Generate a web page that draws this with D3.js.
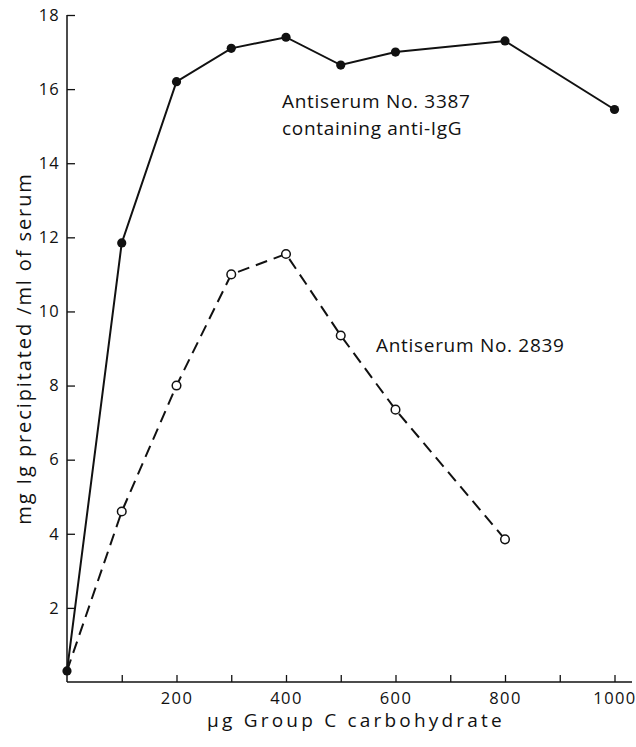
<!DOCTYPE html>
<html>
<head>
<meta charset="utf-8">
<script src="https://cdn.jsdelivr.net/npm/d3@7"></script>
<style>
  html, body { margin: 0; padding: 0; background: #fff; }
  svg { display: block; }
  text { font-family: "Open Sans", "Liberation Sans", sans-serif; font-weight: 400; fill: #111; }
</style>
</head>
<body>
<svg id="chart" width="636" height="747"></svg>
<script>
// µg of Group C carbohydrate added
const carbohydrate = [0, 100, 200, 300, 400, 500, 600, 800, 1000];
// mg Ig precipitated per ml of serum, antiserum No. 3387 (contains anti-IgG)
const serum3387 = [0.3, 11.85, 16.2, 17.1, 17.4, 16.65, 17.0, 17.3, 15.45];
// antiserum No. 2839 (no value measured at 1000)
const carbohydrate2839 = [0, 100, 200, 300, 400, 500, 600, 800];
const serum2839 = [0.3, 4.6, 8.0, 11.0, 11.55, 9.35, 7.35, 3.85];

const xTicks = [100, 200, 300, 400, 500, 600, 700, 800, 900, 1000];
const xTickLabels = [200, 400, 600, 800, 1000];
const yTicks = [2, 4, 6, 8, 10, 12, 14, 16, 18];

const svg = d3.select("#chart");
const ink = "#111";

const x = d3.scaleLinear().domain([0, 1000]).range([67, 614.5]);
const y = d3.scaleLinear().domain([0, 18]).range([682, 15]);

// x axis: ticks pointing up into the plot, line runs a little past 1000
const xAxis = d3.axisBottom(x)
  .tickValues(xTicks)
  .tickSizeInner(-7)
  .tickSizeOuter(0)
  .tickPadding(10)
  .tickFormat(d => xTickLabels.includes(d) ? d : "");
const gx = svg.append("g").attr("transform", `translate(0,${y(0)})`).call(xAxis);
gx.select(".domain").remove();
gx.append("line")
  .attr("x1", x(0)).attr("x2", 632)
  .attr("y1", 0).attr("y2", 0)
  .attr("stroke", ink).attr("stroke-width", 1.5);
gx.selectAll(".tick line").attr("stroke", ink).attr("stroke-width", 1.3);
gx.selectAll(".tick text")
  .attr("font-size", 16.5).attr("letter-spacing", 1.4)
  .attr("font-family", null).attr("fill", ink);

// y axis: ticks pointing right into the plot
const yAxis = d3.axisLeft(y)
  .tickValues(yTicks)
  .tickSizeInner(-8)
  .tickSizeOuter(0)
  .tickPadding(7)
  .tickFormat(d3.format("d"));
const gy = svg.append("g").attr("transform", `translate(${x(0)},0)`).call(yAxis);
gy.select(".domain").remove();
gy.append("line")
  .attr("x1", 0).attr("x2", 0)
  .attr("y1", y(0)).attr("y2", y(18))
  .attr("stroke", ink).attr("stroke-width", 1.5);
gy.selectAll(".tick line").attr("stroke", ink).attr("stroke-width", 1.3);
gy.selectAll(".tick text")
  .attr("font-size", 16.5).attr("letter-spacing", 1.2)
  .attr("font-family", null).attr("fill", ink);

// curves
const line = d3.line().x(d => x(d[0])).y(d => y(d[1]));
const pts3387 = carbohydrate.map((c, i) => [c, serum3387[i]]);
const pts2839 = carbohydrate2839.map((c, i) => [c, serum2839[i]]);

svg.append("path")
  .datum(pts2839)
  .attr("d", line)
  .attr("fill", "none")
  .attr("stroke", ink)
  .attr("stroke-width", 2)
  .attr("stroke-dasharray", "12,7");

svg.append("path")
  .datum(pts3387)
  .attr("d", line)
  .attr("fill", "none")
  .attr("stroke", ink)
  .attr("stroke-width", 2);

// open circles for No. 2839 (the shared origin point is drawn filled)
svg.append("g").selectAll("circle")
  .data(pts2839.slice(1))
  .join("circle")
  .attr("cx", d => x(d[0]))
  .attr("cy", d => y(d[1]))
  .attr("r", 4.3)
  .attr("fill", "#fff")
  .attr("stroke", ink)
  .attr("stroke-width", 1.5);

// filled circles for No. 3387
svg.append("g").selectAll("circle")
  .data(pts3387)
  .join("circle")
  .attr("cx", d => x(d[0]))
  .attr("cy", d => y(d[1]))
  .attr("r", 4.6)
  .attr("fill", ink);

// series labels
const label = svg.append("g").attr("font-size", 19).attr("letter-spacing", 0.7);
label.append("text").attr("x", 282).attr("y", 108).text("Antiserum No. 3387");
label.append("text").attr("x", 282).attr("y", 135).text("containing anti-IgG");
label.append("text").attr("x", 376).attr("y", 352).text("Antiserum No. 2839");

// axis titles
svg.append("text")
  .attr("x", 356).attr("y", 727)
  .attr("text-anchor", "middle")
  .attr("font-size", 19)
  .attr("letter-spacing", 3.2)
  .text("\u03BCg Group C carbohydrate");

svg.append("text")
  .attr("transform", "translate(31,348.5) rotate(-90)")
  .attr("text-anchor", "middle")
  .attr("font-size", 20)
  .attr("letter-spacing", 1.9)
  .text("mg Ig precipitated /ml of serum");
</script>
</body>
</html>
